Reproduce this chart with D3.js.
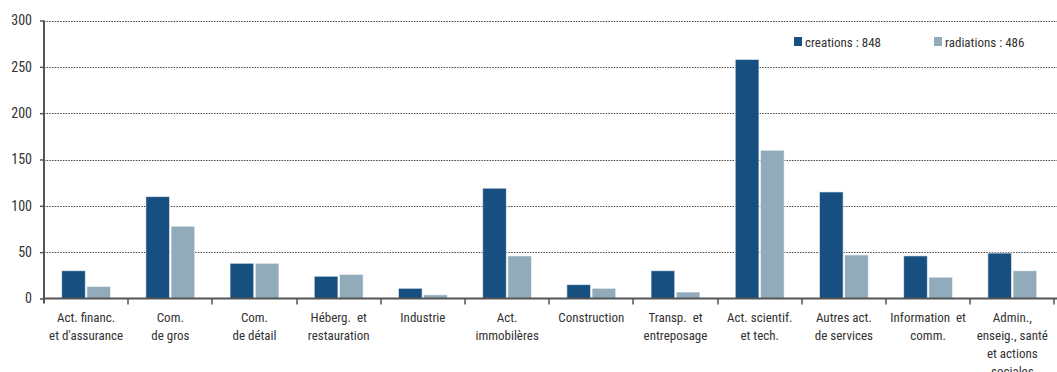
<!DOCTYPE html>
<html><head><meta charset="utf-8">
<script src="https://cdn.jsdelivr.net/npm/d3@7"></script>
<style>
body{margin:0;background:#fff;}
svg text{font-family:"Liberation Sans Narrow","Arial Narrow","Roboto Condensed","Liberation Sans",sans-serif;fill:#333;}
</style></head><body>
<svg id="c" width="1057" height="372"></svg>
<script>
const categories = [
  ["Act. financ.","et d'assurance"],
  ["Com.","de gros"],
  ["Com.","de détail"],
  ["Héberg.  et","restauration"],
  ["Industrie"],
  ["Act.","immobilères"],
  ["Construction"],
  ["Transp.  et","entreposage"],
  ["Act. scientif.","et tech."],
  ["Autres act.","de services"],
  ["Information  et","comm."],
  ["Admin.,","enseig., santé","et actions","sociales"]
];
const creations  = [30,110,38,24,11,119,15,30,258,115,46,49];
const radiations = [13,78,38,26,4,46,11,7,160,47,23,30];
const seriesNames = ["creations : 848","radiations : 486"];
const seriesColors = ["#174f80","#92abba"];
const yTicks = [0,50,100,150,200,250,300];

(function(){
const svg = d3.select("#c");
const mLeft = 44, mRight = 1054.4, mTop = 20.5, mBottom = 298.5;
const x = d3.scaleBand().domain(d3.range(categories.length)).range([mLeft,mRight]).padding(0);
const xs = d3.scaleBand().domain([0,1]).range([0,x.bandwidth()]).paddingInner(0.06).paddingOuter(0.7);
const y = d3.scaleLinear().domain([0,300]).range([mBottom,mTop]);

svg.append("g").selectAll("line").data(yTicks.filter(d=>d>0)).join("line")
  .attr("x1",mLeft).attr("x2",1057).attr("y1",d=>Math.round(y(d))+0.5).attr("y2",d=>Math.round(y(d))+0.5)
  .attr("stroke","#444").attr("stroke-width",1).attr("stroke-dasharray","1.5,1.2");

const data = [creations, radiations];
const g = svg.append("g");
data.forEach((vals,si)=>{
  g.append("g").selectAll("rect").data(vals).join("rect")
    .attr("x",(d,i)=>x(i)+xs(si))
    .attr("width",xs.bandwidth())
    .attr("y",d=>y(d))
    .attr("height",d=>mBottom-y(d))
    .attr("fill",seriesColors[si])
    .attr("stroke","#ffffff").attr("stroke-opacity",0.6).attr("stroke-width",1);
});

const ya = svg.append("g").attr("transform",`translate(${mLeft},0)`)
  .call(d3.axisLeft(y).tickValues(yTicks).tickSize(4).tickPadding(8));
ya.select(".domain").attr("stroke","#555").attr("stroke-width",2).attr("d",`M0,${mTop}V${mBottom+5}`);
ya.selectAll(".tick line").attr("stroke","#555").attr("stroke-width",1.5);
ya.selectAll(".tick text").style("font-size","14px").attr("fill","#333");

const xa = svg.append("g").attr("transform",`translate(0,${mBottom})`);
xa.append("line").attr("x1",mLeft-1).attr("x2",1057).attr("y1",0).attr("y2",0)
  .attr("stroke","#555").attr("stroke-width",2);
xa.selectAll("line.tk").data(d3.range(1,categories.length+1)).join("line").attr("class","tk")
  .attr("x1",i=>Math.round(x(0)+i*x.step())).attr("x2",i=>Math.round(x(0)+i*x.step()))
  .attr("y1",0).attr("y2",6).attr("stroke","#555").attr("stroke-width",1.5);
const lab = xa.selectAll("text").data(categories).join("text")
  .attr("text-anchor","middle").style("font-size","13px").attr("fill","#333")
  .attr("transform",(d,i)=>`translate(${x(i)+x.bandwidth()/2},0)`);
lab.selectAll("tspan").data(d=>d).join("tspan")
  .attr("x",0).attr("y",(d,j)=>23+j*18).text(d=>d).style("white-space","pre");

const lx = [794, 934];
const leg = svg.append("g");
seriesNames.forEach((n,i)=>{
  leg.append("rect").attr("x",lx[i]).attr("y",37).attr("width",8).attr("height",9).attr("fill",seriesColors[i]);
  leg.append("text").attr("x",lx[i]+11).attr("y",46.5).style("font-size","13px").attr("fill","#333").text(n);
});
})();
</script>
</body></html>
